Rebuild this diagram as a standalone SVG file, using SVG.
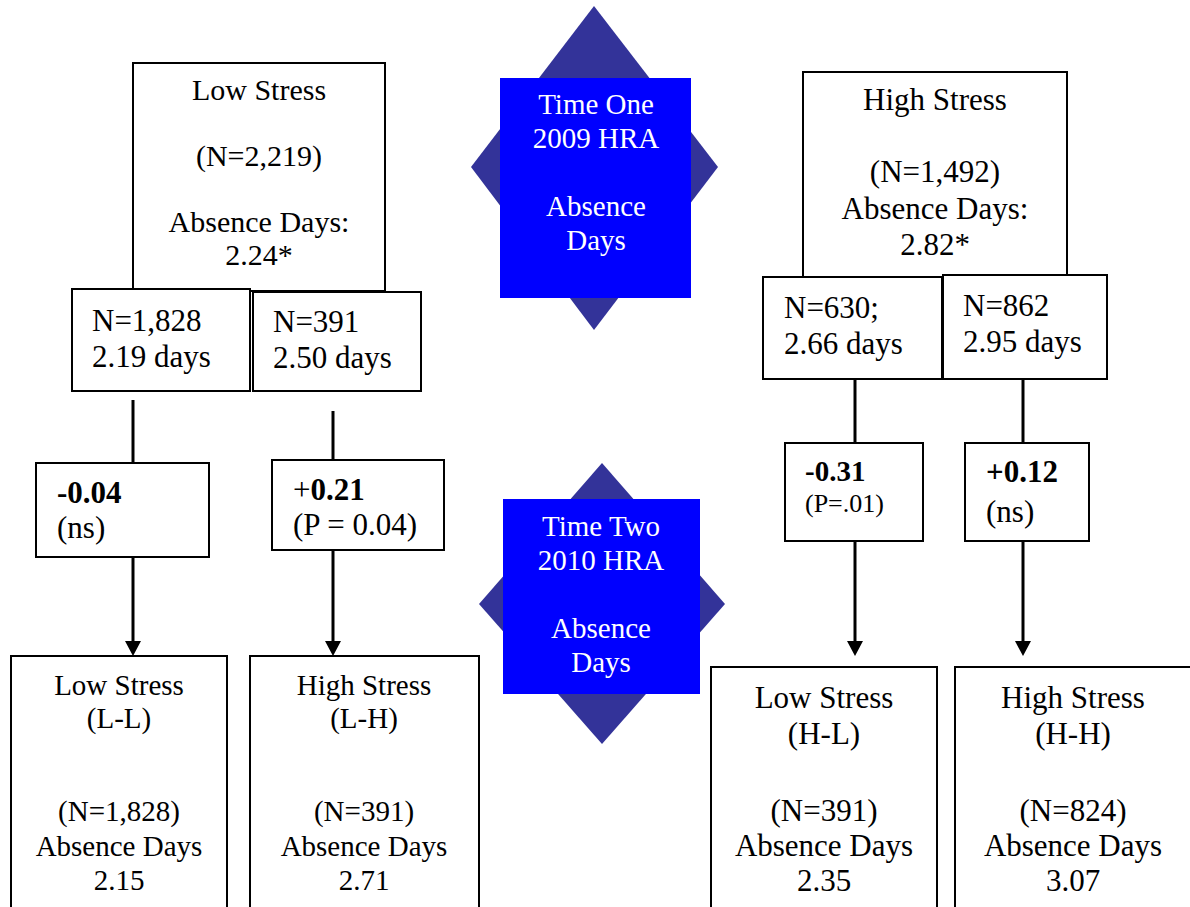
<svg xmlns="http://www.w3.org/2000/svg" width="1190" height="907" viewBox="0 0 1190 907">
<style>
.box{fill:#fff;stroke:#000;stroke-width:2}
.t{font-family:"Liberation Serif","Times New Roman",serif;fill:#000}
.c{text-anchor:middle}
.w{fill:#fff}
.b{font-weight:bold}
.con{stroke:#000;stroke-width:3;fill:none}
.dia{fill:#333399}
.blue{fill:#0000ff}
</style>
<defs>
<marker id="ah" viewBox="0 0 15 16" refX="4" refY="8" markerWidth="15" markerHeight="16" markerUnits="userSpaceOnUse" orient="auto">
<path d="M0,0 L15,8 L0,16 z" fill="#000"/>
</marker>
</defs>

<g id="time-one">
<polygon class="dia" points="594,6 718,167 594,330 471,167"/>
<rect class="blue" x="500" y="78" width="191" height="220"/>
<g class="t c w" font-size="29">
<text x="596" y="114">Time One</text>
<text x="596" y="148">2009 HRA</text>
<text x="596" y="216">Absence</text>
<text x="596" y="250">Days</text>
</g>
</g>

<g id="time-two">
<polygon class="dia" points="602,463 725,604 602,744 479,604"/>
<rect class="blue" x="503" y="499" width="197" height="195"/>
<g class="t c w" font-size="29">
<text x="601" y="536">Time Two</text>
<text x="601" y="570">2010 HRA</text>
<text x="601" y="638">Absence</text>
<text x="601" y="672">Days</text>
</g>
</g>

<g id="connectors">
<line class="con" x1="133" y1="400" x2="133" y2="463"/>
<line class="con" x1="333" y1="411" x2="333" y2="460"/>
<line class="con" x1="855" y1="359" x2="855" y2="443"/>
<line class="con" x1="1023" y1="361" x2="1023" y2="443"/>
<line class="con" x1="133" y1="557" x2="133" y2="645" marker-end="url(#ah)"/>
<line class="con" x1="333" y1="550" x2="333" y2="645" marker-end="url(#ah)"/>
<line class="con" x1="855" y1="541" x2="855" y2="645" marker-end="url(#ah)"/>
<line class="con" x1="1023" y1="541" x2="1023" y2="645" marker-end="url(#ah)"/>
</g>

<g id="low-stress-t1">
<rect class="box" x="133" y="63" width="252" height="228"/>
<g class="t c" font-size="30">
<text x="259" y="100">Low Stress</text>
<text x="259" y="166">(N=2,219)</text>
<text x="259" y="232">Absence Days:</text>
<text x="259" y="265">2.24*</text>
</g>
</g>

<g id="high-stress-t1">
<rect class="box" x="803" y="72" width="264" height="205"/>
<g class="t c" font-size="31">
<text x="935" y="110">High Stress</text>
<text x="935" y="182">(N=1,492)</text>
<text x="935" y="219">Absence Days:</text>
<text x="935" y="255">2.82*</text>
</g>
</g>

<g id="low-low-t1">
<rect class="box" x="72" y="289" width="178" height="102"/>
<g class="t" font-size="31">
<text x="92" y="331">N=1,828</text>
<text x="92" y="367">2.19 days</text>
</g>
</g>

<g id="low-high-t1">
<rect class="box" x="253" y="292" width="168" height="99"/>
<g class="t" font-size="31">
<text x="273" y="332">N=391</text>
<text x="273" y="368">2.50 days</text>
</g>
</g>

<g id="high-low-t1">
<rect class="box" x="763" y="277" width="179" height="102"/>
<g class="t" font-size="31">
<text x="784" y="318">N=630;</text>
<text x="784" y="354">2.66 days</text>
</g>
</g>

<g id="high-high-t1">
<rect class="box" x="943" y="275" width="164" height="104"/>
<g class="t" font-size="31">
<text x="963" y="316">N=862</text>
<text x="963" y="352">2.95 days</text>
</g>
</g>

<g id="change-ll">
<rect class="box" x="36" y="463" width="173" height="94"/>
<g class="t" font-size="31">
<text x="57" y="503" class="b">-0.04</text>
<text x="57" y="538">(ns)</text>
</g>
</g>

<g id="change-lh">
<rect class="box" x="272" y="460" width="172" height="90"/>
<g class="t" font-size="31">
<text x="293" y="500">+<tspan class="b">0.21</tspan></text>
<text x="293" y="535">(P = 0.04)</text>
</g>
</g>

<g id="change-hl">
<rect class="box" x="785" y="443" width="138" height="98"/>
<g class="t">
<text x="805" y="481" font-size="29" class="b">-0.31</text>
<text x="805" y="512" font-size="26">(P=.01)</text>
</g>
</g>

<g id="change-hh">
<rect class="box" x="965" y="443" width="124" height="98"/>
<g class="t" font-size="31">
<text x="986" y="482" class="b">+0.12</text>
<text x="986" y="522">(ns)</text>
</g>
</g>

<g id="low-low-t2">
<rect class="box" x="11" y="656" width="216" height="260"/>
<g class="t c" font-size="29">
<text x="119" y="695">Low Stress</text>
<text x="119" y="728">(L-L)</text>
<text x="119" y="821">(N=1,828)</text>
<text x="119" y="856">Absence Days</text>
<text x="119" y="890">2.15</text>
</g>
</g>

<g id="low-high-t2">
<rect class="box" x="250" y="656" width="229" height="260"/>
<g class="t c" font-size="29">
<text x="364" y="695">High Stress</text>
<text x="364" y="728">(L-H)</text>
<text x="364" y="821">(N=391)</text>
<text x="364" y="856">Absence Days</text>
<text x="364" y="890">2.71</text>
</g>
</g>

<g id="high-low-t2">
<rect class="box" x="711" y="667" width="226" height="250"/>
<g class="t c" font-size="31">
<text x="824" y="708">Low Stress</text>
<text x="824" y="744">(H-L)</text>
<text x="824" y="821">(N=391)</text>
<text x="824" y="856">Absence Days</text>
<text x="824" y="891">2.35</text>
</g>
</g>

<g id="high-high-t2">
<rect class="box" x="955" y="667" width="245" height="250"/>
<g class="t c" font-size="31">
<text x="1073" y="708">High Stress</text>
<text x="1073" y="744">(H-H)</text>
<text x="1073" y="821">(N=824)</text>
<text x="1073" y="856">Absence Days</text>
<text x="1073" y="891">3.07</text>
</g>
</g>
</svg>
